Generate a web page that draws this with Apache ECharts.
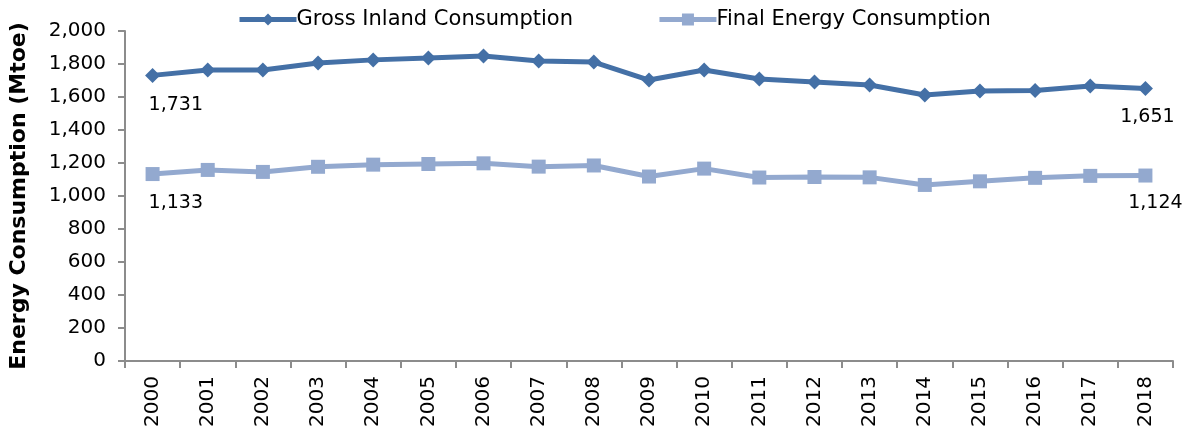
<!DOCTYPE html>
<html><head><meta charset="utf-8">
<script src="https://cdn.jsdelivr.net/npm/echarts@6/dist/echarts.min.js"></script>
<style>html,body{margin:0;padding:0;background:#fff}#c{width:1183px;height:433px}</style>
</head><body><div id="c"></div>
<script>
const years = ['2000','2001','2002','2003','2004','2005','2006','2007','2008','2009','2010','2011','2012','2013','2014','2015','2016','2017','2018'];
const grossInland = [1731,1764,1764,1806,1825,1836,1848,1818,1812,1703,1764,1709,1691,1673,1612,1636,1640,1667,1651];
const finalEnergy = [1133,1158,1146,1177,1190,1194,1198,1178,1185,1118,1166,1112,1115,1113,1067,1089,1110,1122,1124];
const yTicks = [0,200,400,600,800,1000,1200,1400,1600,1800,2000];
const seriesNames = ['Gross Inland Consumption','Final Energy Consumption'];
const FONT = 'DejaVu Sans';
const fmt = v => v.toLocaleString('en-US');
const chart = echarts.init(document.getElementById('c'), null, {renderer:'canvas'});
function endLabels(arr, firstOff, lastOff){
  return arr.map((v,i)=>{
    if(i===0) return {value:v,label:{show:true,position:'bottom',align:'left',offset:firstOff}};
    if(i===arr.length-1) return {value:v,label:{show:true,position:'bottom',offset:lastOff}};
    return v;
  });
}
chart.setOption({
  animation:false,
  textStyle:{fontFamily:FONT},
  legend:{
    top:4, left:232, itemGap:84, itemWidth:57, itemHeight:15,
    lineStyle:{width:5},
    textStyle:{fontFamily:FONT,fontSize:21,color:'#000',padding:[0,0,0,-5]},
    data:seriesNames
  },
  grid:{left:117,right:10,top:31,bottom:72,containLabel:false},
  xAxis:{
    type:'category', data:years, boundaryGap:true,
    axisLine:{lineStyle:{color:'#8c8c8c',width:2}},
    axisTick:{show:true,length:7,alignWithLabel:false,lineStyle:{color:'#8c8c8c',width:2}},
    axisLabel:{rotate:90,color:'#000',fontSize:20,fontFamily:FONT,margin:15,interval:0}
  },
  yAxis:{
    type:'value', min:0, max:2000, interval:200,
    name:'Energy Consumption (Mtoe)', nameLocation:'middle', nameGap:95,
    nameTextStyle:{fontFamily:FONT,fontSize:22,fontWeight:'bold',color:'#000'},
    axisLine:{show:true,lineStyle:{color:'#8c8c8c',width:2}},
    axisTick:{show:true,length:7,lineStyle:{color:'#8c8c8c',width:2}},
    splitLine:{show:false},
    axisLabel:{color:'#000',fontSize:20,fontFamily:FONT,margin:19,
      formatter:v=>yTicks.includes(v)?fmt(v):''}
  },
  series:[
    {name:seriesNames[0],type:'line',data:endLabels(grossInland,[-4,8],[2,6]),
     symbol:'diamond',symbolSize:15,
     lineStyle:{color:'#4470a6',width:5},itemStyle:{color:'#4470a6'},
     label:{show:false,color:'#000',fontSize:19,fontFamily:FONT,formatter:p=>fmt(p.value)}},
    {name:seriesNames[1],type:'line',data:endLabels(finalEnergy,[-4,8],[10,6]),
     symbol:'rect',symbolSize:14,
     lineStyle:{color:'#93a9cf',width:5},itemStyle:{color:'#93a9cf'},
     label:{show:false,color:'#000',fontSize:19,fontFamily:FONT,formatter:p=>fmt(p.value)}}
  ]
});
</script></body></html>
